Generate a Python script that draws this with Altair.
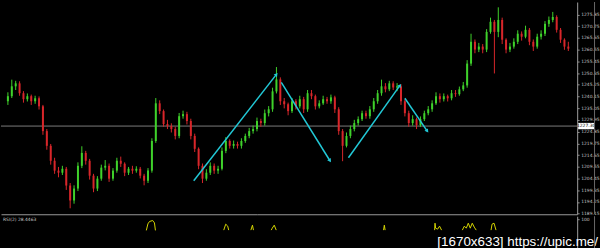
import math
import altair as alt
import pandas as pd

# ---------------- data ----------------
close = [1240.3,1244.6,1245.9,1241.6,1239.0,1240.3,1238.1,1239.4,1235.9,1225.1,
 1218.7,1212.2,1207.9,1207.0,1208.7,1201.4,1194.9,1200.1,1210.0,1215.6,
 1212.2,1205.7,1200.1,1204.4,1209.2,1210.0,1204.4,1207.9,1212.2,1210.9,
 1207.0,1208.7,1207.9,1208.7,1205.7,1203.5,1207.9,1220.8,1237.2,1233.8,
 1228.2,1227.3,1226.0,1223.0,1231.6,1232.5,1229.5,1223.0,1217.4,1210.0,
 1204.4,1207.0,1210.0,1207.9,1208.7,1216.5,1220.8,1218.7,1219.5,1218.7,
 1220.8,1223.0,1225.1,1226.0,1229.5,1228.6,1232.9,1234.6,1242.4,1247.6,
 1238.1,1236.8,1233.8,1238.1,1235.9,1239.0,1234.6,1241.6,1240.3,1235.9,
 1237.2,1239.0,1238.1,1239.8,1234.6,1225.1,1218.7,1223.0,1226.0,1228.6,
 1230.3,1232.9,1231.6,1234.6,1238.1,1241.6,1244.6,1243.3,1245.9,1244.1,
 1244.6,1238.1,1232.9,1228.6,1230.3,1227.7,1230.3,1232.9,1234.6,1237.2,
 1240.3,1239.0,1240.3,1239.4,1241.6,1241.2,1243.3,1245.0,1254.5,1264.0,
 1260.6,1261.9,1260.6,1268.3,1272.7,1268.3,1273.5,1264.9,1260.6,1261.9,
 1264.0,1267.5,1266.2,1269.2,1264.0,1261.9,1266.2,1267.5,1271.8,1273.5,
 1274.8,1269.2,1264.9,1261.9,1261.0]
first_open = 1238.1
high = [1242.0,1247.5,1247.0,1246.8,1242.5,1241.5,1241.0,1240.5,1240.2,1236.5,
 1226.0,1219.5,1213.5,1209.5,1210.0,1209.5,1202.5,1201.5,1211.5,1218.5,
 1216.5,1213.0,1206.5,1205.5,1210.5,1212.5,1211.0,1209.0,1213.5,1214.0,
 1211.5,1209.5,1210.0,1209.8,1209.5,1206.5,1209.0,1222.0,1239.5,1238.5,
 1234.5,1230.0,1228.5,1227.0,1233.0,1234.0,1233.5,1230.5,1224.0,1218.0,
 1211.0,1208.5,1211.5,1211.0,1210.0,1218.0,1222.5,1221.5,1221.0,1220.5,
 1222.0,1224.0,1226.5,1227.5,1231.0,1230.5,1234.5,1236.0,1244.0,1253.0,
 1248.5,1239.5,1237.5,1239.5,1239.0,1240.5,1240.0,1243.0,1243.0,1241.0,
 1238.5,1240.5,1240.0,1241.0,1240.5,1235.5,1226.0,1224.5,1227.5,1230.0,
 1231.5,1234.0,1234.0,1236.0,1239.5,1243.0,1247.5,1246.0,1247.0,1246.8,
 1246.0,1245.5,1239.0,1234.0,1232.0,1231.0,1231.5,1234.0,1236.0,1238.5,
 1242.0,1241.5,1241.5,1241.0,1243.0,1243.0,1244.5,1246.5,1256.0,1267.5,
 1265.0,1263.5,1263.0,1269.5,1274.5,1273.5,1279.0,1274.5,1265.5,1263.5,
 1265.5,1269.0,1268.5,1271.0,1270.0,1265.0,1267.5,1269.0,1273.0,1275.0,
 1277.0,1275.5,1270.0,1265.5,1264.0]
low = [1236.5,1239.5,1243.0,1240.5,1237.5,1238.0,1236.5,1237.0,1234.5,1223.5,
 1217.0,1210.5,1206.5,1205.0,1206.0,1199.5,1191.5,1193.5,1199.0,1209.0,
 1210.5,1204.0,1198.5,1199.0,1203.5,1208.0,1203.0,1203.5,1207.0,1209.5,
 1205.5,1206.0,1206.5,1207.0,1204.5,1201.5,1202.5,1207.0,1220.0,1232.5,
 1227.0,1226.0,1224.5,1221.5,1222.0,1230.5,1228.0,1221.5,1216.0,1208.5,
 1202.5,1203.5,1206.0,1206.5,1206.5,1208.0,1215.5,1217.5,1217.5,1217.5,
 1217.5,1220.0,1222.0,1224.0,1225.0,1227.0,1227.5,1231.5,1233.5,1241.5,
 1236.5,1235.0,1232.0,1233.0,1234.5,1235.0,1233.0,1233.5,1239.0,1234.5,
 1235.0,1236.5,1237.0,1237.0,1233.0,1223.5,1212.0,1218.0,1222.0,1225.0,
 1227.5,1229.5,1230.5,1230.5,1233.5,1237.0,1240.5,1242.0,1242.5,1243.0,
 1242.5,1236.5,1231.5,1227.0,1227.5,1226.0,1227.0,1229.5,1232.0,1233.5,
 1236.5,1237.5,1238.0,1238.0,1238.5,1240.0,1240.5,1242.5,1244.0,1253.5,
 1259.0,1259.5,1259.0,1259.5,1267.5,1250.2,1266.0,1263.0,1259.0,1259.5,
 1261.0,1263.0,1264.5,1265.5,1262.5,1260.0,1261.0,1265.0,1266.5,1270.5,
 1272.5,1268.0,1263.5,1260.5,1260.0]

price_ticks = [1275.85,1270.75,1265.65,1260.55,1255.45,1250.35,1245.25,1240.15,
               1235.05,1229.95,1224.85,1219.75,1214.65,1209.55,1204.45,1199.35,
               1194.25,1189.15]
last_price = 1227.30

arrow_seg = [1, 1, 2, 2, 3, 3, 4, 4]
arrow_i = [47.75, 69.0, 70.25, 82.75, 87.5, 100.75, 102.0, 107.75]
arrow_p = [1203.5, 1249.8, 1246.3, 1212.2, 1213.5, 1245.0, 1239.4, 1225.1]

rsi_seg = ([1]*6 + [2]*4 + [3]*3 + [4]*4 + [5]*3 + [6]*6 + [7]*8 + [8]*4)
rsi_i = [36.2,36.6,37.0,37.8,38.25,38.5,
         55.75,56.25,56.75,57.0,
         62.6,63.0,63.25,
         67.75,68.0,68.5,69.0,
         96.1,96.3,96.5,
         109.0,109.1,109.25,109.75,110.25,110.75,
         116.0,116.5,117.0,117.5,118.0,118.5,119.0,119.5,
         123.25,123.5,124.0,124.5]
rsi_v = [79.5,91.5,95.8,97.6,93.3,79.5,
         80,90.9,87.3,80,
         80,89.1,80,
         80,83.6,89.1,80,
         80,89.1,80,
         80,92.7,83.6,81.8,87.3,80,
         80,87.3,83.6,92.7,83.6,92.7,85.5,80,
         80,90.9,92.7,80]
rsi_label = "RSI(2) 28.4463"
watermark = "[1670x633] https://upic.me/"

# ---------------- frames ----------------
opens = [first_open] + close[:-1]
candles = pd.DataFrame({
    "i": list(range(len(close))), "o": opens, "c": close, "h": high, "l": low,
})
candles["dir"] = ["up" if c >= o else "down" for o, c in zip(opens, close)]

arrows = pd.DataFrame({"seg": arrow_seg, "i": arrow_i, "p": arrow_p,
                       "k": list(range(len(arrow_seg)))})

W, H_MAIN, H_SUB = 581, 214, 34
X_DOM = [-0.5, 145.0]
Y_DOM = [1188.9, 1281.3]
px_i = W / (X_DOM[1] - X_DOM[0])
px_p = H_MAIN / (Y_DOM[1] - Y_DOM[0])
heads = []
for s in sorted(set(arrow_seg)):
    pts = arrows[arrows.seg == s]
    i1, i2 = pts.i.iloc[0], pts.i.iloc[1]
    p1, p2 = pts.p.iloc[0], pts.p.iloc[1]
    ang = math.degrees(math.atan2((i2 - i1) * px_i, (p2 - p1) * px_p)) % 360
    heads.append({"i": i2, "p": p2, "ang": ang})
heads = pd.DataFrame(heads)

rsi = pd.DataFrame({"seg": rsi_seg, "i": rsi_i, "v": rsi_v,
                    "k": list(range(len(rsi_seg)))})

# ---------------- main panel ----------------
xs = alt.Scale(domain=X_DOM, nice=False, zero=False)
ys = alt.Scale(domain=Y_DOM, nice=False, zero=False)
xaxis = alt.Axis(orient="bottom", labels=False, ticks=False, domain=True,
                 domainColor="#9a9a9a", domainWidth=1, grid=False, title=None)
yaxis = alt.Axis(orient="right", values=price_ticks, format=".2f", grid=False,
                 title=None, labelFontSize=4.5, labelColor="#c4c4c4",
                 labelPadding=1.5, tickSize=2, tickColor="#8a8a8a",
                 domainColor="#a0a0a0", labelOverlap=False,
                 labelFont="DejaVu Sans")
col = alt.Color("dir:N", scale=alt.Scale(domain=["up", "down"],
                                         range=["#3fd12b", "#d8262a"]), legend=None)

hline = alt.Chart(pd.DataFrame({"p": [last_price]})).mark_rule(
    color="#7c7c7c", strokeWidth=1).encode(
    y=alt.Y("p:Q", scale=ys, axis=yaxis))

base = alt.Chart(candles)
wicks = base.mark_rule(strokeWidth=1).encode(
    x=alt.X("i:Q", scale=xs, axis=xaxis),
    y=alt.Y("l:Q", scale=ys, axis=yaxis), y2="h:Q", color=col)
bodies = base.mark_bar(size=2).encode(
    x=alt.X("i:Q", scale=xs, axis=xaxis),
    y=alt.Y("o:Q", scale=ys, axis=yaxis), y2="c:Q", color=col)

alines = alt.Chart(arrows).mark_line(color="#22c8d6", strokeWidth=1.5).encode(
    x=alt.X("i:Q", scale=xs, axis=xaxis),
    y=alt.Y("p:Q", scale=ys, axis=yaxis),
    detail="seg:N", order="k:Q")
aheads = alt.Chart(heads).mark_point(shape="triangle-up", filled=True, size=18,
                                     color="#22c8d6", opacity=1).encode(
    x=alt.X("i:Q", scale=xs, axis=xaxis),
    y=alt.Y("p:Q", scale=ys, axis=yaxis),
    angle=alt.Angle("ang:Q", scale=None))

lbl_df = pd.DataFrame({"p": [last_price], "t": [f"{last_price:.2f}"]})
lbl_box = alt.Chart(lbl_df).mark_point(
    shape="M-1,-0.4L1,-0.4L1,0.4L-1,0.4Z", filled=True, size=256,
    color="#ffffff", opacity=1).encode(
    x=alt.value(590), y=alt.Y("p:Q", scale=ys, axis=yaxis))
lbl_txt = alt.Chart(lbl_df).mark_text(fontSize=4.5, color="#000000",
                                      baseline="middle", align="center",
                                      font="DejaVu Sans").encode(
    x=alt.value(590), y=alt.Y("p:Q", scale=ys, axis=yaxis), text="t:N")
edge = alt.Chart(lbl_df).mark_rule(color="#6a6a6a", strokeWidth=1).encode(
    x=alt.value(598.5), y=alt.value(0), y2=alt.value(H_MAIN))

main = alt.layer(hline, wicks, bodies, alines, aheads, lbl_box, lbl_txt, edge
                 ).properties(width=W, height=H_MAIN)

# ---------------- sub panel ----------------
ss = alt.Scale(domain=[43.6, 105.45], nice=False, zero=False)
saxis = alt.Axis(orient="right", values=[100], format="d", grid=False, title=None,
                 labelFontSize=4.5, labelColor="#c4c4c4", labelPadding=1.5,
                 tickSize=2, tickColor="#8a8a8a", domainColor="#a0a0a0",
                 labelFont="DejaVu Sans")
sx_axis = alt.Axis(labels=False, ticks=False, domain=False, grid=False, title=None)

rsi_line = alt.Chart(rsi).mark_line(color="#d6d600", strokeWidth=1, clip=True).encode(
    x=alt.X("i:Q", scale=xs, axis=sx_axis),
    y=alt.Y("v:Q", scale=ss, axis=saxis),
    detail="seg:N", order="k:Q")
tdf = pd.DataFrame({"t": [rsi_label], "w": [watermark]})
rsi_txt = alt.Chart(tdf).mark_text(fontSize=4.5, color="#c8c8c8", align="left",
                                   baseline="middle", font="DejaVu Sans").encode(
    x=alt.value(2), y=alt.value(4), text="t:N")
wm = alt.Chart(tdf).mark_text(fontSize=13.5, color="#ffffff", align="left",
                              baseline="alphabetic", font="Liberation Sans").encode(
    x=alt.value(440), y=alt.value(30.5), text="w:N")
edge2 = alt.Chart(tdf).mark_rule(color="#6a6a6a", strokeWidth=1).encode(
    x=alt.value(598.5), y=alt.value(0), y2=alt.value(H_SUB))

sub = alt.layer(rsi_line, rsi_txt, wm, edge2).properties(width=W, height=H_SUB)

chart = alt.vconcat(main, sub, spacing=0).properties(
    background="#000000", padding=0
).configure_view(stroke=None).configure_concat(spacing=0)

chart.save("out.html", embed_options={"renderer": "svg", "actions": False})
